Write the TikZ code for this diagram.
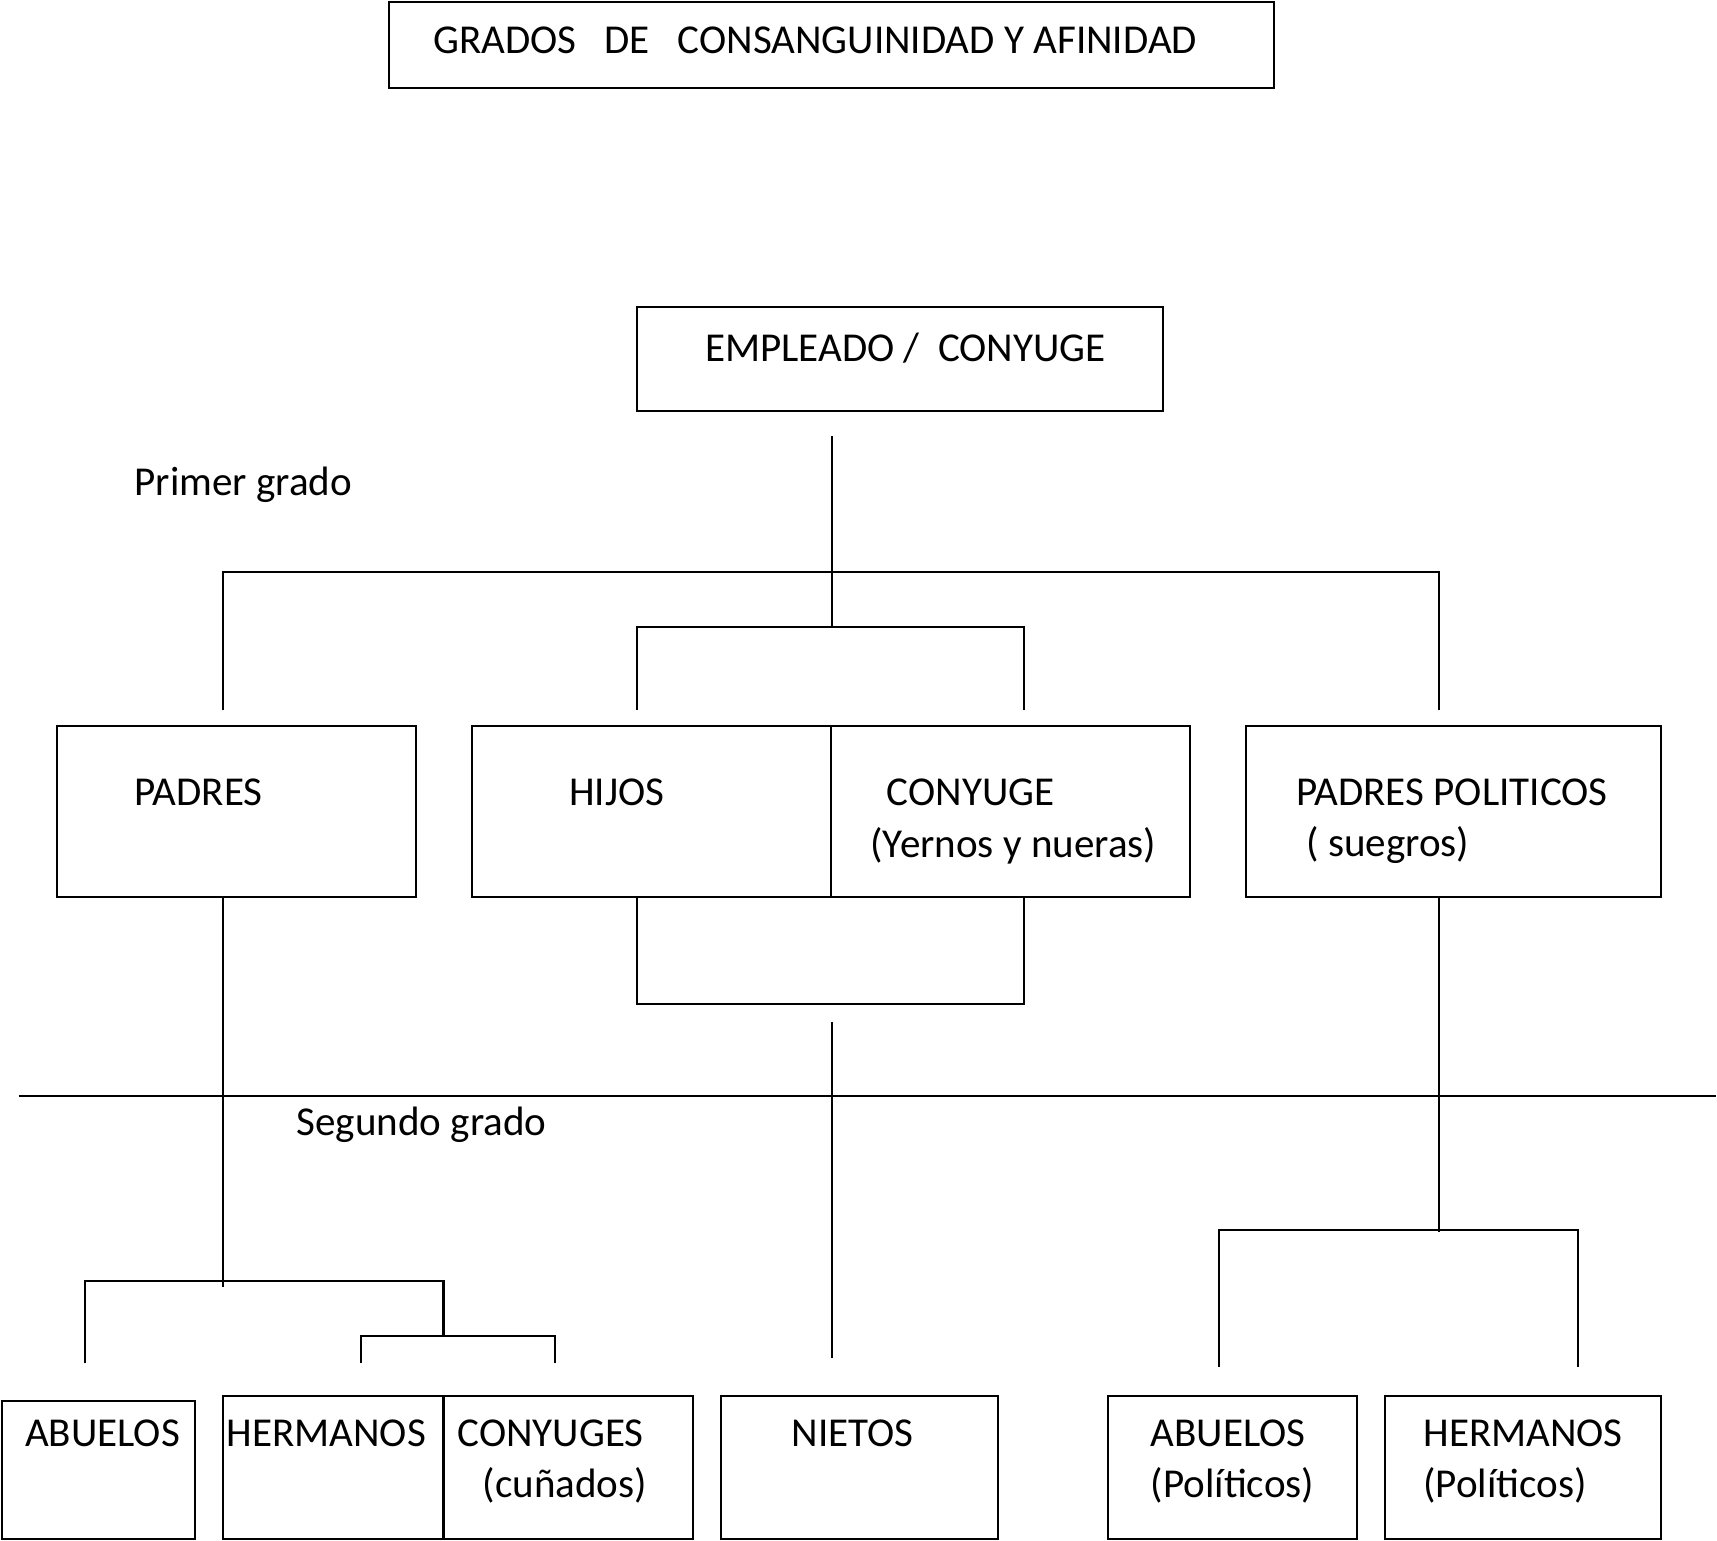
\documentclass[tikz,border=0pt]{standalone}
\usepackage{fontspec}
\setmainfont{Carlito}
\begin{document}
\begin{tikzpicture}[x=0.03cm,y=-0.03cm,line width=1.6pt,
  box/.style={draw,line width=1.6pt},
  t/.style={anchor=west,inner sep=0pt,font=\fontsize{32}{38}\selectfont}]
\useasboundingbox (0,0) rectangle (1568,1407);
% boxes
\draw[box] (355,2) rectangle (1163,80);
\draw[box] (582,280) rectangle (1062,375);
\draw[box] (52,663) rectangle (380,819);
\draw[box] (431,663) rectangle (1087,819);
\draw (759,663) -- (759,819);
\draw[box] (1138,663) rectangle (1517,819);
\draw[box] (2,1279) rectangle (178,1405);
\draw[box] (204,1275) rectangle (633,1405);
\draw (405,1275) -- (405,1405);
\draw[box] (658,1275) rectangle (911,1405);
\draw[box] (1012,1275) rectangle (1239,1405);
\draw[box] (1265,1275) rectangle (1517,1405);
% texts
\node[t] (title) at (395,37) {GRADOS\ \ \ DE\ \ \ CONSANGUINIDAD Y AFINIDAD};
\node[t] (emp) at (643,318) {EMPLEADO /\ \ CONYUGE};
\node[t] (pg) at (122,443) {Primer grado};
\node[t] (pad) at (122,724) {PADRES};
\node[t] (hij) at (519,724) {HIJOS};
\node[t] (con) at (809,724) {CONYUGE};
\node[t] (yer) at (794,772) {(Yernos y nueras)};
\node[t] (pp) at (1183,724) {PADRES POLITICOS};
\node[t] (sue) at (1192,772) {( suegros)};
\node[t] (sg) at (270,1027) {Segundo grado};
\node[t] (ab) at (22,1309) {ABUELOS};
\node[t] (he) at (206,1309) {HERMANOS};
\node[t] (cs) at (417,1309) {CONYUGES};
\node[t] (cu) at (440,1356) {(cuñados)};
\node[t] (ni) at (722,1309) {NIETOS};
\node[t] (abp) at (1050,1309) {ABUELOS};
\node[t] (abp2) at (1050,1356) {(Políticos)};
\node[t] (hep) at (1299,1309) {HERMANOS};
\node[t] (hep2) at (1299,1356) {(Políticos)};
% connectors
\draw (760,398) -- (760,573);
\draw (204,648) -- (204,522) -- (1314,522) -- (1314,648);
\draw (582,648) -- (582,573) -- (935,573) -- (935,648);
\draw (204,819) -- (204,1175);
\draw (582,819) -- (582,917) -- (935,917) -- (935,819);
\draw (760,933) -- (760,1240);
\draw (1314,819) -- (1314,1125);
\draw (1113,1248) -- (1113,1123) -- (1441,1123) -- (1441,1248);
\draw[line width=1pt] (17,1001) -- (1567,1001);
\draw (78,1245) -- (78,1170) -- (405,1170) -- (405,1220);
\draw (330,1245) -- (330,1220) -- (507,1220) -- (507,1245);
\end{tikzpicture}
\end{document}
